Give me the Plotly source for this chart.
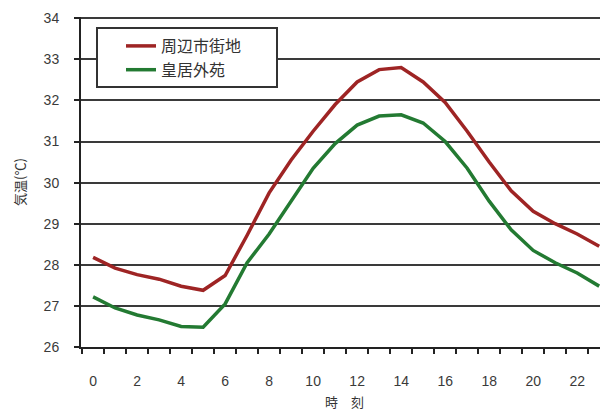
import plotly.graph_objects as go

hours = list(range(24))
urban = [28.18, 27.92, 27.76, 27.65, 27.48, 27.38, 27.74, 28.72, 29.75, 30.55,
         31.25, 31.9, 32.45, 32.75, 32.8, 32.45, 31.95, 31.25, 30.5, 29.8,
         29.3, 29.0, 28.75, 28.45]
garden = [27.22, 26.95, 26.78, 26.66, 26.5, 26.48, 27.05, 28.05, 28.75, 29.55,
          30.35, 30.95, 31.4, 31.62, 31.65, 31.45, 31.0, 30.35, 29.55, 28.85,
          28.35, 28.05, 27.8, 27.48]
series_names = ["周辺市街地", "皇居外苑"]
x_tick_vals = list(range(0, 24, 2))
y_tick_vals = list(range(26, 35))

FONT = "Liberation Sans, Noto Sans CJK JP, sans-serif"
CJK = "Noto Sans CJK JP, sans-serif"

fig = go.Figure()
fig.add_trace(go.Scatter(x=hours, y=urban, mode="lines", name=series_names[0],
                         line=dict(color="#9e2424", width=3.5)))
fig.add_trace(go.Scatter(x=hours, y=garden, mode="lines", name=series_names[1],
                         line=dict(color="#237a32", width=3.5)))

# page body has an 8px margin, so the figure is laid out 8px smaller
OFF = 8
W, H = 608 - OFF, 415 - OFF
L, R, T, B = 81 - OFF, 0, 17 - OFF, 415 - 347
pw, ph = W - L - R, H - T - B

def px_x(p):
    return (p - OFF - L) / pw

def px_y(p):
    return (H - B - (p - OFF)) / ph

fig.add_shape(type="rect", xref="paper", yref="paper",
              x0=px_x(97), x1=px_x(277), y0=px_y(87), y1=px_y(28),
              line=dict(color="#333333", width=2), fillcolor="white", layer="above")

tickfont = dict(family=FONT, size=14, color="#3a3a3a")

fig.update_layout(
    width=W, height=H,
    margin=dict(l=L, r=R, t=T, b=B),
    paper_bgcolor="white", plot_bgcolor="white",
    font=dict(family=FONT, size=14, color="#3a3a3a"),
    showlegend=True,
    legend=dict(x=px_x(121), y=px_y(29), xanchor="left", yanchor="top",
                bgcolor="rgba(0,0,0,0)", borderwidth=0,
                font=dict(family=CJK, size=16, color="#333333"),
                tracegroupgap=0),
    xaxis=dict(range=[-0.55, 23.4], tickmode="array", tickvals=x_tick_vals,
               ticks="", showgrid=False, zeroline=False, automargin=False,
               showline=True, linecolor="#222222", linewidth=2,
               tickfont=tickfont, ticklabelstandoff=20,
               minor=dict(tickmode="array", tickvals=[h - 0.5 for h in range(25)],
                          ticks="outside", ticklen=5, tickcolor="#222222", tickwidth=1.5,
                          showgrid=False),
               title=dict(text="時　刻", font=dict(family=CJK, size=13, color="#333333"),
                          standoff=10)),
    yaxis=dict(range=[26, 34.03], tickmode="array", tickvals=y_tick_vals,
               ticks="outside", ticklen=5, tickcolor="#222222", tickwidth=1.5,
               showgrid=True, gridcolor="#3a3a3a", gridwidth=2, zeroline=False,
               automargin=False,
               showline=True, linecolor="#222222", linewidth=2,
               tickfont=tickfont, ticklabelstandoff=12,
               title=dict(text="気温(℃)", font=dict(family=CJK, size=13, color="#333333"),
                          standoff=15)),
)

fig.write_html("out.html")
